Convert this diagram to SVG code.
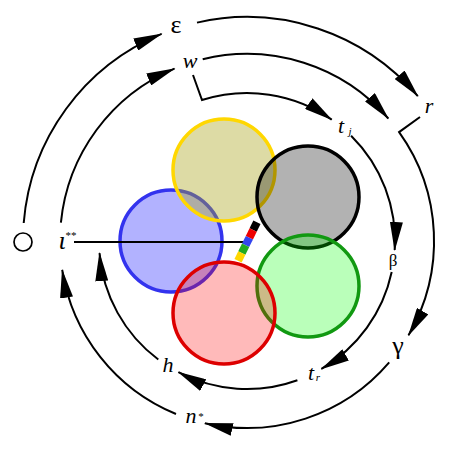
<svg xmlns="http://www.w3.org/2000/svg" width="474" height="454" viewBox="0 0 474 454">
<style>
.lb{font-family:"Liberation Serif","DejaVu Serif",serif;font-size:22px;fill:#000;text-anchor:middle}
.it{font-style:italic}
.sm{font-size:11px}
.gk{font-size:26px}
.cn{fill:none;stroke:#000;stroke-width:2;marker-end:url(#ah)}
.br{fill:none;stroke:#000;stroke-width:2}
.ci{stroke-width:3.5}
</style>
<defs>
<marker id="ah" viewBox="0 0 29 13" markerWidth="29" markerHeight="13" refX="28" refY="6.5" orient="auto" markerUnits="userSpaceOnUse">
<path d="M0,0 L29,6.5 L0,13 z" fill="#000"/>
</marker>
</defs>
<rect width="474" height="454" fill="#fff"/>
<g id="circles">
<circle id="c-blue" cx="171" cy="241" r="51" fill="#0000ff" fill-opacity="0.3" stroke="#3333ee" class="ci"/>
<circle id="c-yellow" cx="224" cy="170" r="51" fill="#aaa51e" fill-opacity="0.4" stroke="#ffd700" class="ci"/>
<circle id="c-gray" cx="308" cy="197" r="51" fill="#000" fill-opacity="0.3" stroke="#000" class="ci"/>
<circle id="c-green" cx="308" cy="286" r="51" fill="#00ff00" fill-opacity="0.27" stroke="#119911" class="ci"/>
<circle id="c-red" cx="224" cy="313" r="51" fill="#ff0000" fill-opacity="0.27" stroke="#dd0000" class="ci"/>
</g>
<g id="connectors">
<path class="cn" d="M23.7,223 A224,224 0 0 1 161.6,33.9"/>
<path class="cn" d="M197,22.6 A224,224 0 0 1 417.8,96.1"/>
<path class="cn" d="M60.9,222.7 A187,187 0 0 1 174.5,68.6"/>
<path class="cn" d="M202.7,59.3 A187,187 0 0 1 388.3,118.5"/>
<path class="cn" d="M420,117 L399.1,132.1 A187,187 0 0 1 408.5,335.3"/>
<path class="cn" d="M389.2,362.4 A187,187 0 0 1 204.9,423.2"/>
<path class="cn" d="M176,414 A187,187 0 0 1 62.2,269.9"/>
<path class="cn" d="M193,75 L202,100 A148,148 0 0 1 331.7,119.6"/>
<path class="cn" d="M351.1,135.8 A148,148 0 0 1 394.7,250"/>
<path class="cn" d="M391.7,272 A148,148 0 0 1 321.4,368.9"/>
<path class="cn" d="M297.4,380.2 A148,148 0 0 1 178.4,372.2"/>
<path class="cn" d="M158.3,359.5 A148,148 0 0 1 99.5,253.1"/>
<path class="br" d="M74,242 L246,242"/>
</g>
<g id="colorbar" transform="translate(247.5,241.5) rotate(26)">
<rect x="-4" y="-21.5" width="8" height="8.6" fill="#000"/>
<rect x="-4" y="-12.9" width="8" height="8.6" fill="#ee0000"/>
<rect x="-4" y="-4.3" width="8" height="8.6" fill="#3344ee"/>
<rect x="-4" y="4.3" width="8" height="8.6" fill="#22aa22"/>
<rect x="-4" y="12.9" width="8" height="8.6" fill="#ffd700"/>
</g>
<g id="n-empty"><circle cx="23" cy="242" r="9" fill="none" stroke="#000" stroke-width="1.7"/></g>
<g id="n-iota"><text class="lb it gk" x="62" y="249">ι</text><text class="lb sm" x="71" y="239">**</text></g>
<g id="n-eps"><text class="lb gk" x="176" y="33">ε</text></g>
<g id="n-w"><text class="lb it" x="190" y="68">w</text></g>
<g id="n-r"><text class="lb it" x="429" y="113">r</text></g>
<g id="n-tj"><text class="lb it" x="341" y="133">t</text><text class="lb it sm" x="350" y="135">j</text></g>
<g id="n-beta"><text class="lb" x="393" y="266" style="font-size:17px">β</text></g>
<g id="n-gamma"><text class="lb gk" x="398" y="354">γ</text></g>
<g id="n-tr"><text class="lb it" x="311" y="380">t</text><text class="lb it sm" x="318" y="381">r</text></g>
<g id="n-h"><text class="lb it" x="168" y="372">h</text></g>
<g id="n-nstar"><text class="lb it" x="191" y="423">n</text><text class="lb sm" x="201" y="420">*</text></g>
</svg>
